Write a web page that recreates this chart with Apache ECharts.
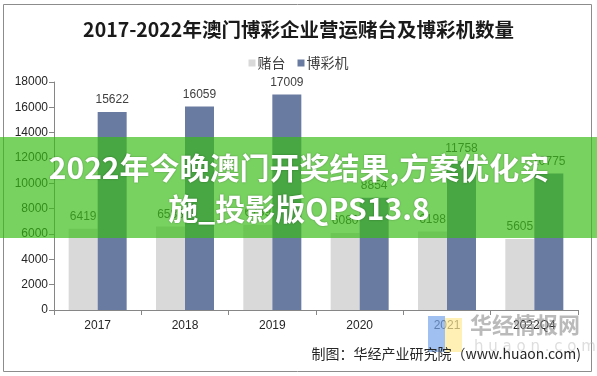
<!DOCTYPE html>
<html><head><meta charset="utf-8">
<script src="https://cdn.jsdelivr.net/npm/echarts@6/dist/echarts.min.js"></script>
<style>html,body{margin:0;padding:0;background:#fff}#c{width:597px;height:376px}</style>
</head><body><div id="c"></div>
<script>
const categories = ['2017','2018','2019','2020','2021','2022Q4'];
const tables = [6419, 6588, 6739, 6080, 6198, 5605];
const machines = [15622, 16059, 17009, 8854, 11758, 10775];
const yTicks = [0, 2000, 4000, 6000, 8000, 10000, 12000, 14000, 16000, 18000];

const chart = echarts.init(document.getElementById('c'));
const lab = {show:true, position:'top', color:'#404040', fontSize:12, fontFamily:'Liberation Sans, Arial, sans-serif', distance:6};
chart.setOption({
  animation:false,
  title:{text:'2017-2022年澳门博彩企业营运赌台及博彩机数量', left:'center', top:15,
    textStyle:{fontFamily:'Noto Sans CJK SC', fontSize:19.5, fontWeight:'bold', color:'#1a1a1a'}},
  legend:{top:51, left:'center', itemWidth:7, itemHeight:7, itemGap:12, icon:'rect',
    textStyle:{fontFamily:'Noto Sans CJK SC', fontSize:14, color:'#404040', padding:[0,0,0,-3]},
    data:['赌台','博彩机']},
  grid:{left:54, right:19, top:82, bottom:66},
  xAxis:{type:'category', data:categories,
    axisLine:{lineStyle:{color:'#868686'}},
    axisTick:{show:true, length:5, lineStyle:{color:'#868686'}},
    axisLabel:{color:'#262626', fontSize:12, fontFamily:'Liberation Sans, Arial, sans-serif', margin:10}},
  yAxis:{type:'value', min:yTicks[0], max:yTicks[yTicks.length-1], interval:2000,
    axisLine:{show:true, lineStyle:{color:'#868686'}},
    axisTick:{show:true, length:5, lineStyle:{color:'#868686'}},
    splitLine:{show:false},
    axisLabel:{color:'#262626', fontSize:12, fontFamily:'Liberation Sans, Arial, sans-serif', margin:6, formatter:v=>String(v)}},
  series:[
    {name:'赌台', type:'bar', data:tables, barWidth:29, barGap:'0%', itemStyle:{color:'#d9d9d9'}, label:lab},
    {name:'博彩机', type:'bar', data:machines, barWidth:29, itemStyle:{color:'#6a7ba2'}, label:lab}
  ],
  graphic:[
    {type:'rect', shape:{x:3.5, y:4.5, width:588, height:367}, style:{fill:'none', stroke:'#8c8c8c', lineWidth:1}, z:-1},
    {type:'text', right:16, top:347, style:{text:'制图：华经产业研究院（www.huaon.com)', font:'14px "Noto Sans CJK SC"', fill:'#262626'}, z:10},
    {type:'rect', shape:{x:428, y:316, width:17, height:36}, style:{fill:'rgba(120,165,235,0.7)'}, z:5},
    {type:'rect', shape:{x:445, y:318, width:17, height:34}, style:{fill:'rgba(255,235,150,0.7)'}, z:5},
    {type:'text', left:470, top:314, style:{text:'华经情报网', font:'bold 22px "Noto Sans CJK SC"', fill:'rgba(140,140,140,0.6)'}, z:5},
    {type:'text', left:474, top:340, style:{text:'h u a o n . c o m', font:'15px "DejaVu Sans"', fill:'rgba(190,190,190,0.5)'}, z:5},
    {type:'rect', shape:{x:0, y:137, width:597, height:101}, style:{fill:'rgba(56,189,20,0.68)'}, z:20},
    {type:'text', x:299, y:168, style:{text:'2022年今晚澳门开奖结果,方案优化实', font:'bold 30px "Noto Sans CJK SC"', fill:'#fff', align:'center', verticalAlign:'middle', textShadowColor:'rgba(0,0,0,0.35)', textShadowBlur:2}, z:21},
    {type:'text', x:299, y:209, style:{text:'施_投影版QPS13.8', font:'bold 30px "Noto Sans CJK SC"', fill:'#fff', align:'center', verticalAlign:'middle', textShadowColor:'rgba(0,0,0,0.35)', textShadowBlur:2}, z:21}
  ]
});
</script></body></html>
